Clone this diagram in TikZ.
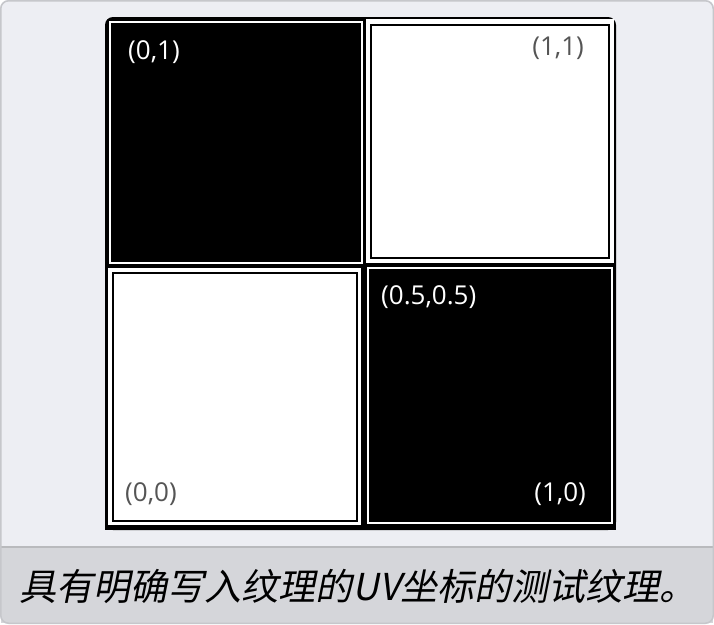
\documentclass[tikz,border=0pt]{standalone}
\usepackage{fontspec}
\setmainfont{Open Sans}
\newfontfamily\cjk[FakeSlant=0.2]{Noto Sans CJK SC}
\definecolor{panelbg}{HTML}{EDEEF3}
\definecolor{panelborder}{HTML}{C6C7CB}
\definecolor{capbg}{HTML}{D5D6DA}
\definecolor{capline}{HTML}{B9BABD}
\definecolor{labgray}{HTML}{555555}
\tikzset{
  lab/.style={inner sep=0pt, font=\fontsize{26}{30}\selectfont},
  whitelab/.style={lab, text=white},
  graylab/.style={lab, text=labgray},
  innerwhite/.style={draw=white, line width=2pt},
  innerblack/.style={draw=black, line width=2pt},
}
\begin{document}
\begin{tikzpicture}[x=1pt,y=-1pt]
\useasboundingbox (0,0) rectangle (714,624);
% panel
\fill[panelbg, rounded corners=8pt] (0,0) rectangle (714,624);
\fill[capbg] (1,547) rectangle (713,623);
\draw[capline, line width=1.5pt] (1,547) -- (713,547);
\draw[panelborder, line width=1.5pt, rounded corners=8pt] (0.75,0.75) rectangle (713.25,623.25);
% texture background
\fill[black, rounded corners=8pt] (105,17) rectangle (616,530);
\fill[black] (105,300) rectangle (616,530);
% top-left black cell
\draw[innerwhite] (110,22) rectangle (362,263);
% top-right white cell
\fill[white] (366,19) rectangle (614,263);
\draw[innerblack] (371,25) rectangle (609,258);
% bottom-left white cell
\fill[white] (108,268) rectangle (361,525);
\draw[innerblack] (113,273) rectangle (357,521);
% bottom-right black cell
\draw[innerwhite] (368,268) rectangle (612,523);
% labels
\node[whitelab, anchor=west] (l01) at (128,52) {(0,1)};
\node[graylab, anchor=east] (l11) at (584,48) {(1,1)};
\node[whitelab, anchor=west] (l55) at (381,297) {(0.5,0.5)};
\node[graylab, anchor=west] (l00) at (125,494) {(0,0)};
\node[whitelab, anchor=east] (l10) at (586,494) {(1,0)};
% caption
\node[inner sep=0pt, font=\cjk\fontsize{37}{42}\selectfont] (cap) at (358,586) {具有明确写入纹理的UV坐标的测试纹理。};
\end{tikzpicture}
\end{document}
